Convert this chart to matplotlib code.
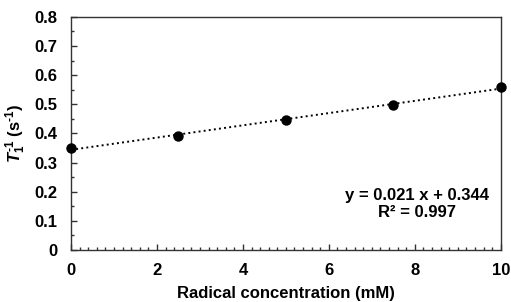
import numpy as np
import matplotlib
matplotlib.use("Agg")
import matplotlib.pyplot as plt
from matplotlib.ticker import MultipleLocator

plt.rcParams['font.family'] = 'Liberation Sans'
plt.rcParams['font.weight'] = 'bold'
plt.rcParams['mathtext.fontset'] = 'custom'
plt.rcParams['mathtext.rm'] = 'Liberation Sans:bold'
plt.rcParams['mathtext.it'] = 'Liberation Sans:bold:italic'
plt.rcParams['mathtext.bf'] = 'Liberation Sans:bold'

# data
conc = [0, 2.5, 5, 7.5, 10]
rate = [0.350, 0.393, 0.445, 0.498, 0.560]
slope, intercept = 0.021, 0.344
fit_x = [0, 10]

fig = plt.figure(figsize=(5.11, 3.02), dpi=100)
ax = fig.add_axes([0.139, 0.172, 0.841, 0.772])

fit_y = [slope * v + intercept for v in fit_x]
ax.plot(fit_x, fit_y, ':', color='black', lw=1.4, clip_on=False)
ax.plot(conc, rate, 'o', color='black', ms=6.5, clip_on=False, zorder=5)

ax.set_xlim(0, 10)
ax.set_ylim(0, 0.8)
ax.xaxis.set_major_locator(MultipleLocator(2))
ax.xaxis.set_minor_locator(MultipleLocator(0.2))
ax.yaxis.set_major_locator(MultipleLocator(0.1))
ax.yaxis.set_minor_locator(MultipleLocator(0.05))
ax.yaxis.set_major_formatter(plt.FuncFormatter(lambda v, p: '0' if abs(v) < 1e-9 else '%.1f' % v))
ax.tick_params(which='both', direction='in', top=False, right=False, labelsize=12, width=1, color='#333333')
ax.tick_params(axis='y', which='major', length=4, pad=10)
ax.tick_params(axis='x', which='major', length=4, pad=9)
ax.tick_params(which='minor', length=2.5)
for s in ax.spines.values():
    s.set_color('#333333')
    s.set_linewidth(1)

ax.set_xlabel('Radical concentration (mM)', fontsize=12, fontweight='bold')
ax.set_ylabel(r'$T_1^{\mathrm{‐1}}$ (s$^{\mathrm{‐1}}$)', fontsize=12, fontweight='bold')
ax.xaxis.set_label_coords(0.5, -0.155)
ax.yaxis.set_label_coords(-0.1, 0.5)

ax.text(8.04, 0.158, 'y = 0.021 x + 0.344\nR² = 0.997', ha='center', va='center',
        fontsize=12, fontweight='bold', linespacing=1.1)

fig.savefig('out.png', dpi=100)
